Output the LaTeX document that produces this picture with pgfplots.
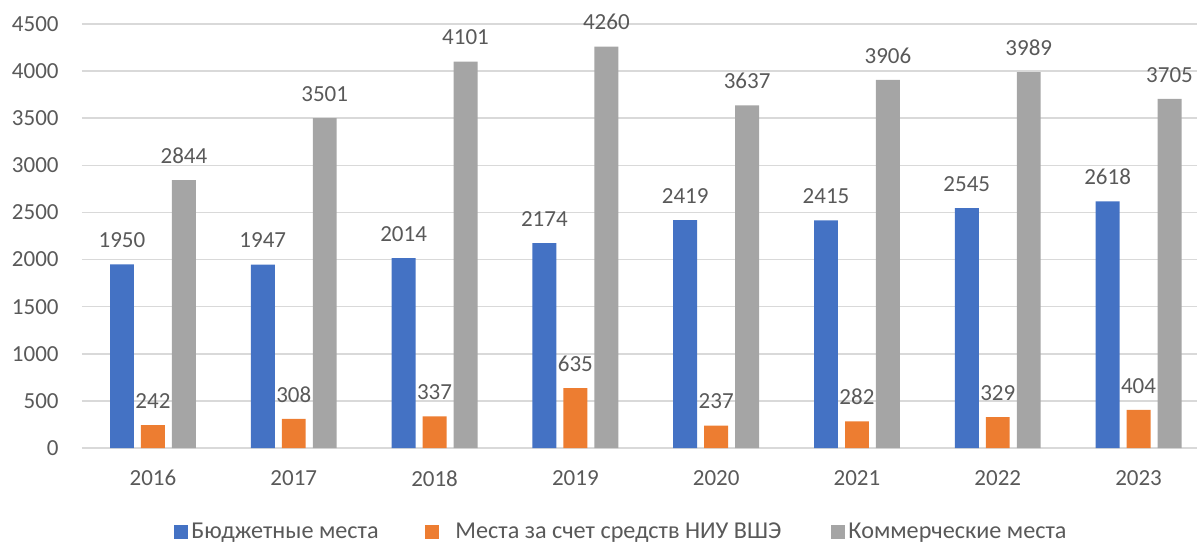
\documentclass[border=0pt]{standalone}
\usepackage{pgfplots}
\pgfplotsset{compat=1.18}
\usepackage{fontspec}
\setmainfont{Carlito}
\definecolor{cBlue}{HTML}{4472C4}
\definecolor{cOrange}{HTML}{ED7D31}
\definecolor{cGray}{HTML}{A5A5A5}
\definecolor{cText}{HTML}{595959}
\definecolor{cGrid}{HTML}{D9D9D9}
\newcommand{\chartfont}{\fontsize{11.5}{14}\selectfont}
\newcommand{\legfont}{\fontsize{12.1}{14}\selectfont}
\begin{document}
\begin{tikzpicture}
\useasboundingbox (-41pt,-47pt) rectangle (557.5pt,224pt);
\begin{axis}[
  scale only axis,
  width=557.5pt, height=212pt,
  ybar, bar width=0.17,
  xmin=-0.504, xmax=7.415,
  ymin=0, ymax=4500,
  ytick={0,500,...,4500},
  xtick={0,...,7},
  xticklabels={2016,2017,2018,2019,2020,2021,2022,2023},
  axis line style={draw=none},
  major tick length=0pt,
  ymajorgrids, grid style={cGrid, line width=0.8pt},
  /pgf/number format/assume math mode=true,
  /pgf/number format/1000 sep={},
  tick label style={font=\chartfont, text=cText},
  yticklabel style={anchor=east, inner sep=0pt, xshift=-11.5pt},
  xticklabel style={anchor=north, inner sep=0pt, yshift=-11pt},
  nodes near coords,
  every node near coord/.append style={font=\chartfont, text=cText, anchor=base, inner sep=0pt, yshift=8.4pt},
  legend columns=3,
  legend style={draw=none, fill=none, font=\legfont, text=cText,
    at={(axis description cs:0.4843,-0.198)}, anchor=center,
    nodes={inner sep=1.5pt},
    /tikz/every even column/.append style={column sep=0pt}},
  legend image code/.code={\fill[#1] (0pt,-3.5pt) rectangle (7pt,3.5pt);},
]
\addplot[fill=cBlue, draw=none, bar shift=-0.22] coordinates {(0,1950) (1,1947) (2,2014) (3,2174) (4,2419) (5,2415) (6,2545) (7,2618)};
\addplot[fill=cOrange, draw=none, bar shift=0] coordinates {(0,242) (1,308) (2,337) (3,635) (4,237) (5,282) (6,329) (7,404)};
\addplot[fill=cGray, draw=none, bar shift=0.22] coordinates {(0,2844) (1,3501) (2,4101) (3,4260) (4,3637) (5,3906) (6,3989) (7,3705)};
\legend{\makebox[115.5pt][l]{Бюджетные места},\makebox[193pt][l]{\hspace{6.5pt}Места за счет средств НИУ ВШЭ},Коммерческие места}
\end{axis}
\end{tikzpicture}
\end{document}
